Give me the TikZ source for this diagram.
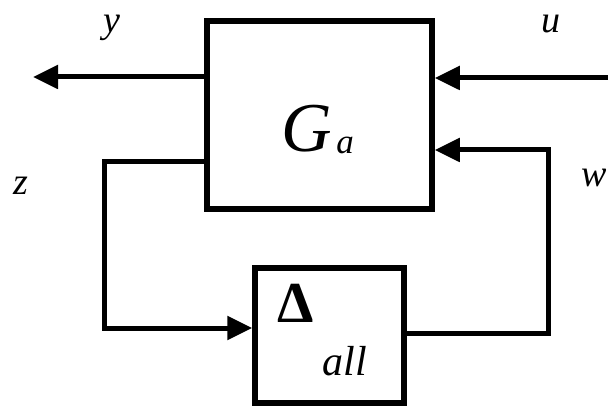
\documentclass[tikz,border=0pt]{standalone}
\usepackage{fontspec}
\setmainfont{Liberation Serif}
\usetikzlibrary{arrows.meta}
\tikzset{
  blockbox/.style={draw, line width=5.5pt, inner sep=0pt},
  conn/.style={line width=5pt},
  arr/.style={conn, line join=miter, -{Triangle[length=25pt,width=23pt]}},
  lbl/.style={inner sep=0pt, font=\fontsize{38}{40}\selectfont\itshape}
}
\begin{document}
\begin{tikzpicture}[x=1pt,y=-1pt]
\useasboundingbox (0,0) rectangle (608,414);
% G box
\node[blockbox, minimum width=225pt, minimum height=188pt] (G) at (319.5,115) {};
% Delta box
\node[blockbox, minimum width=149pt, minimum height=135pt] (D) at (329.5,335.5) {};
% texts
\node[inner sep=0pt, font=\fontsize{70}{72}\selectfont\itshape] (Gt) at (307,129) {G};
\node[inner sep=0pt, font=\fontsize{35}{36}\selectfont\itshape] (Ga) at (345,145) {a};
\node[inner sep=0pt, font=\fontsize{58}{60}\selectfont\bfseries] (Dt) at (296,303) {Δ};
\node[inner sep=0pt, font=\fontsize{42}{44}\selectfont\itshape] (Da) at (345,361) {all};
% coordinates
\coordinate (yend) at (33,77);
\coordinate (ystart) at (G.west |- 0,77);
\coordinate (ustart) at (610,78);
\coordinate (uend) at (G.east |- 0,78);
\coordinate (zs) at (G.west |- 0,162);
\coordinate (z1) at (104,162);
\coordinate (z2) at (104,328);
\coordinate (ze) at (D.west |- 0,328);
\coordinate (ws) at (D.east |- 0,333);
\coordinate (w1) at (548,333);
\coordinate (w2) at (548,150);
\coordinate (we) at (G.east |- 0,150);
% connectors
\draw[arr] (ystart) -- (yend);
\draw[arr] (ustart) -- (uend);
\draw[arr] (zs) -- (z1) -- (z2) -- (ze);
\draw[arr] (ws) -- (w1) -- (w2) -- (we);
% labels
\node[lbl] (ly) at (112,28) {y};
\node[lbl] (lu) at (551,24) {u};
\node[lbl] (lz) at (21,186) {z};
\node[lbl] (lw) at (594,178) {w};
\end{tikzpicture}
\end{document}
